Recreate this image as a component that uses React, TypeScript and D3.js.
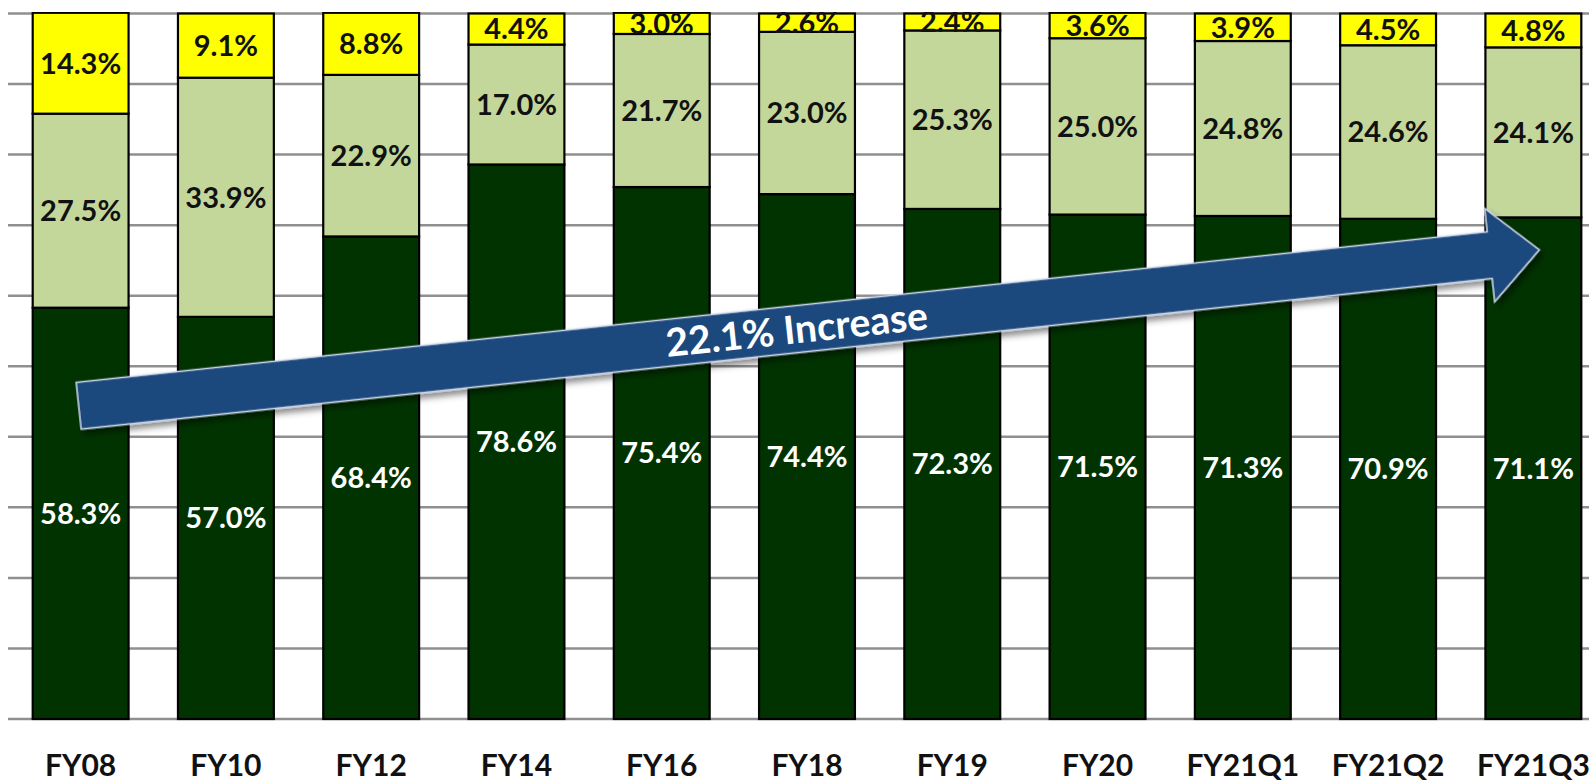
import React from 'react';
import * as d3 from 'd3';

const categories = ['FY08', 'FY10', 'FY12', 'FY14', 'FY16', 'FY18', 'FY19', 'FY20', 'FY21Q1', 'FY21Q2', 'FY21Q3'];
const darkValues = [58.3, 57.0, 68.4, 78.6, 75.4, 74.4, 72.3, 71.5, 71.3, 70.9, 71.1];
const lightValues = [27.5, 33.9, 22.9, 17.0, 21.7, 23.0, 25.3, 25.0, 24.8, 24.6, 24.1];
const yellowValues = [14.3, 9.1, 8.8, 4.4, 3.0, 2.6, 2.4, 3.6, 3.9, 4.5, 4.8];
const gridTicks = [0, 10, 20, 30, 40, 50, 60, 70, 80, 90, 100];
const arrowLabel = '22.1% Increase';
// arrow start / end, in % of the y axis
const arrowFrom = { cat: 'FY08', value: 44.4 };
const arrowTo = { cat: 'FY21Q3', value: 66.5 };

const seriesKeys = ['dark', 'light', 'yellow'];
const colors: Record<string, string> = { dark: '#013301', light: '#C4D79B', yellow: '#FFFF00' };
const textColors: Record<string, string> = { dark: '#ffffff', light: '#111111', yellow: '#111111' };

const rows = categories.map((c, i) => ({ cat: c, dark: darkValues[i], light: lightValues[i], yellow: yellowValues[i] }));

export default class App extends React.Component {
    ref = React.createRef<SVGSVGElement>();

    componentDidMount() {
        document.body.style.margin = '0';
        this._setupD3();
    }

    componentDidUpdate() {
        this._setupD3();
    }

    render() {
        return <svg ref={this.ref} width={1589} height={783} style={{ display: 'block' }} />;
    }

    _setupD3 = () => {
        const width = 1589, height = 783;
        const font = 'Lato, "Open Sans", sans-serif';

        const x = d3.scaleBand<string>()
            .domain(categories)
            .range([8, 1606])
            .paddingInner(0.34)
            .paddingOuter(0.17);

        const y = d3.scaleLinear()
            .domain([0, 100])
            .range([719, 13.5]);

        const svg = d3.select(this.ref.current);
        svg.selectAll('*').remove();
        svg.attr('width', width).attr('height', height);

        const defs = svg.append('defs');
        defs.append('clipPath').attr('id', 'plot-clip')
            .append('rect').attr('x', 0).attr('y', 12).attr('width', width).attr('height', height);
        const f = defs.append('filter').attr('id', 'shadow')
            .attr('x', '-5%').attr('y', '-50%').attr('width', '110%').attr('height', '200%');
        f.append('feDropShadow').attr('dx', 3).attr('dy', 5).attr('stdDeviation', 3)
            .attr('flood-color', '#000').attr('flood-opacity', 0.45);

        // gridlines
        svg.append('g')
            .selectAll('line')
            .data(gridTicks)
            .join('line')
            .attr('x1', 8).attr('x2', width)
            .attr('y1', d => y(d)).attr('y2', d => y(d))
            .attr('stroke', '#8f8f8f')
            .attr('stroke-width', 2.5);

        const stack = d3.stack<any>().keys(seriesKeys);
        const stacked = stack(rows);

        const plot = svg.append('g').attr('clip-path', 'url(#plot-clip)');

        plot.selectAll('g.series')
            .data(stacked)
            .join('g')
            .attr('class', 'series')
            .attr('fill', d => colors[d.key])
            .selectAll('rect')
            .data(d => d)
            .join('rect')
            .attr('x', d => x(d.data.cat)!)
            .attr('width', x.bandwidth())
            .attr('y', d => y(d[1]))
            .attr('height', d => y(d[0]) - y(d[1]))
            .attr('stroke', '#000')
            .attr('stroke-width', 2.2);

        // value labels
        stacked.forEach(s => {
            plot.append('g')
                .selectAll('text')
                .data(s)
                .join('text')
                .attr('x', d => x(d.data.cat)! + x.bandwidth() / 2)
                .attr('y', d => (y(d[0]) + y(d[1])) / 2)
                .attr('dy', '0.36em')
                .attr('text-anchor', 'middle')
                .attr('font-family', font)
                .attr('font-weight', 'bold')
                .attr('font-size', 29)
                .attr('fill', textColors[s.key])
                .text(d => (d[1] - d[0]).toFixed(1) + '%');
        });

        // category labels
        svg.append('g')
            .selectAll('text')
            .data(categories)
            .join('text')
            .attr('x', d => x(d)! + x.bandwidth() / 2)
            .attr('y', 776)
            .attr('text-anchor', 'middle')
            .attr('font-family', font)
            .attr('font-weight', 'bold')
            .attr('font-size', 30)
            .attr('fill', '#111')
            .text(d => d);

        // arrow
        const x0 = x(arrowFrom.cat)! + x.bandwidth() / 2 - 2, y0 = y(arrowFrom.value);
        const x1 = x(arrowTo.cat)! + x.bandwidth() / 2 + 6, y1 = y(arrowTo.value);
        const len = Math.hypot(x1 - x0, y1 - y0);
        const angle = Math.atan2(y1 - y0, x1 - x0) * 180 / Math.PI;
        const shaft = 23.5, head = 47, headLen = 50;
        const pts: [number, number][] = [
            [0, -shaft], [len - headLen, -shaft], [len - headLen, -head], [len, 0],
            [len - headLen, head], [len - headLen, shaft], [0, shaft]
        ];
        const arrow = svg.append('g').attr('transform', `translate(${x0},${y0}) rotate(${angle})`);
        arrow.append('path')
            .attr('d', d3.line()(pts) + 'Z')
            .attr('fill', '#1F497D')
            .attr('stroke', '#c9d6ea')
            .attr('stroke-width', 1.5)
            .attr('filter', 'url(#shadow)');
        arrow.append('text')
            .attr('x', 722)
            .attr('y', 0)
            .attr('dy', '0.36em')
            .attr('text-anchor', 'middle')
            .attr('font-family', font)
            .attr('font-weight', 'bold')
            .attr('font-size', 39)
            .attr('fill', '#fff')
            .text(arrowLabel);
    }
}
